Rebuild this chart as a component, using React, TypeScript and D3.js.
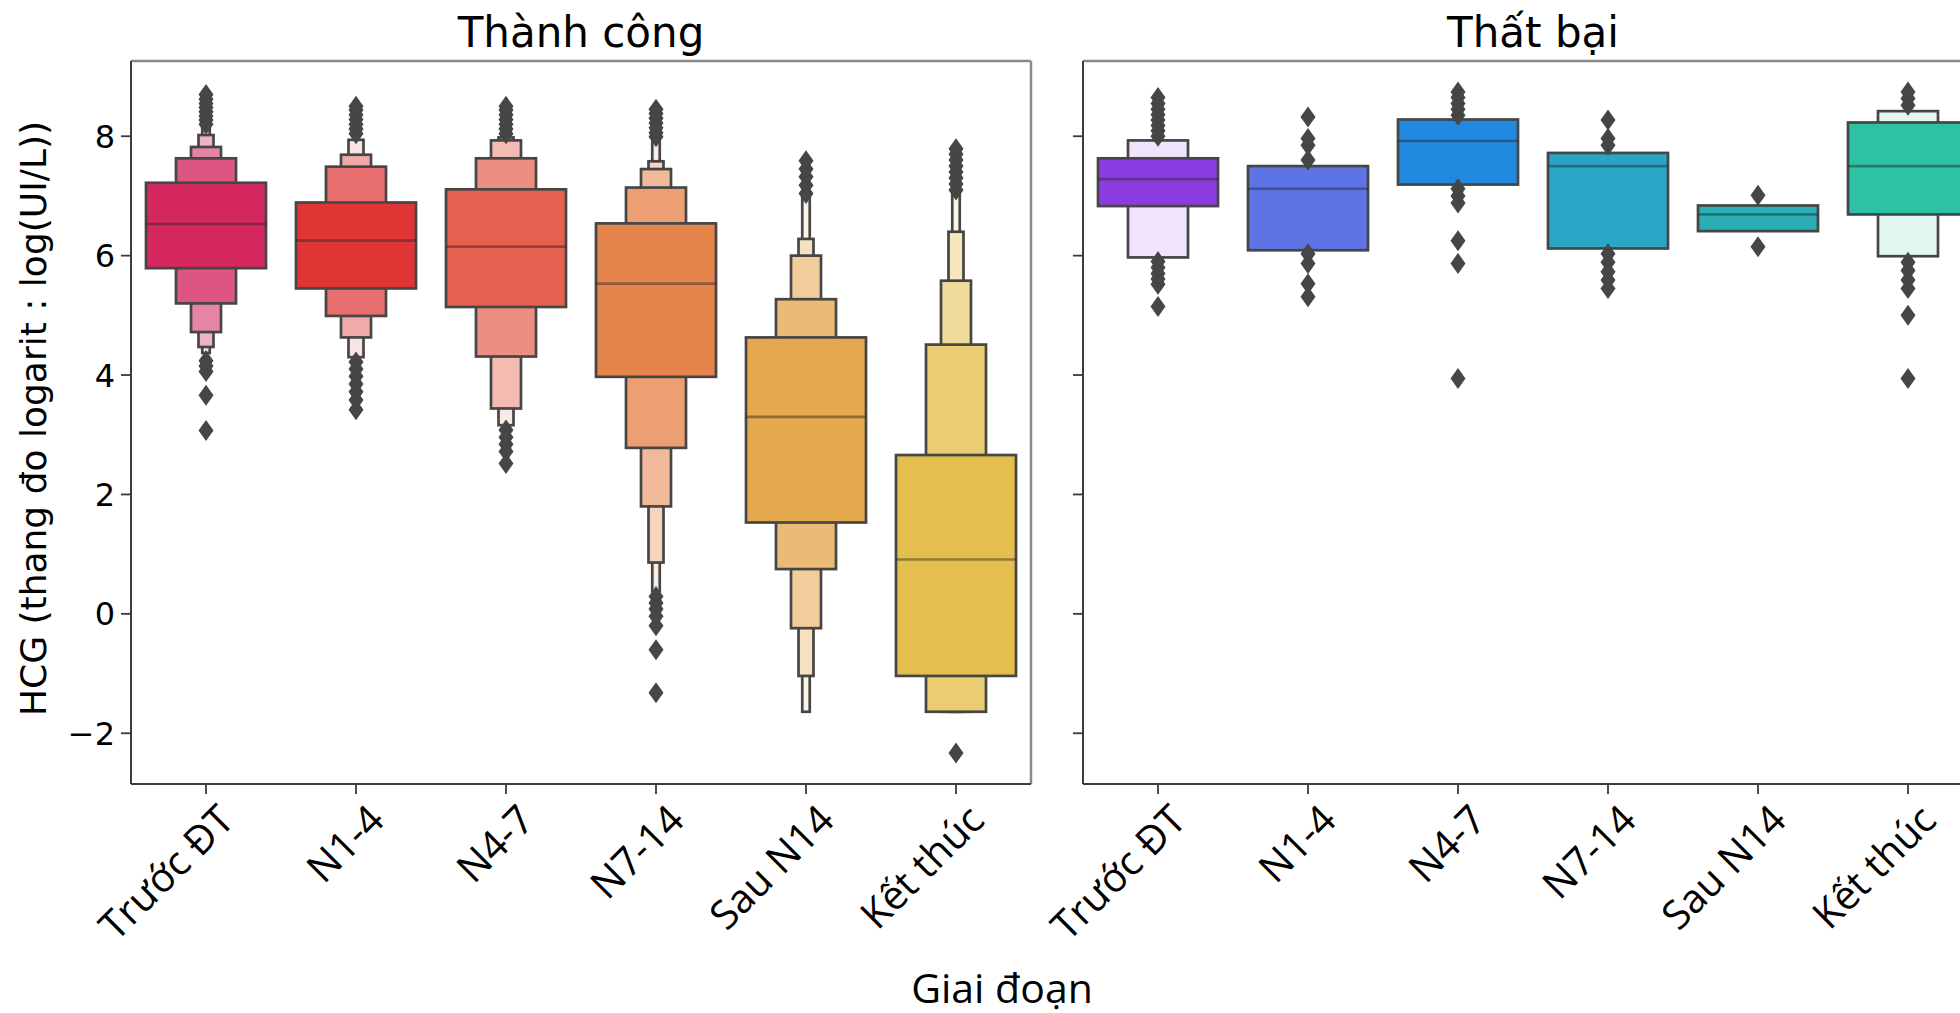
import React from "react";
import * as d3 from "d3";

// categories (stages) and panel titles
const categories = ["Trước ĐT", "N1-4", "N4-7", "N7-14", "Sau N14", "Kết thúc"];
const panelTitles = ["Thành công", "Thất bại"];
const yTicks = [-2, 0, 2, 4, 6, 8];

// base colours of each stage
const successColors = ["#d4285e", "#e03535", "#e5604e", "#e5854c", "#e4a84e", "#e4bf4d"];
const failureColors = ["#8b3ce1", "#5f74e4", "#2189e0", "#29a6c6", "#2aadb4", "#2ec2a5"];

// letter-value boxes, inner -> outer, [low, high]
const successLevels: [number, number][][] = [
  [[5.79, 7.22], [5.2, 7.63], [4.72, 7.82], [4.47, 8.02], [4.37, 8.14]],
  [[5.45, 6.89], [4.99, 7.49], [4.63, 7.69], [4.3, 7.94]],
  [[5.14, 7.11], [4.31, 7.63], [3.44, 7.93], [3.16, 7.98]],
  [[3.97, 6.54], [2.78, 7.14], [1.8, 7.45], [0.86, 7.58], [0.38, 7.93]],
  [[1.53, 4.63], [0.75, 5.27], [-0.24, 6.0], [-1.04, 6.28], [-1.64, 7.0]],
  [[-1.04, 2.66], [-1.64, 4.51], [-1.64, 5.58], [-1.64, 6.4], [-1.64, 7.05]],
];
const successMedians = [6.53, 6.25, 6.15, 5.53, 3.3, 0.91];
const successOutliers = [
  [8.2, 8.27, 8.34, 8.41, 8.48, 8.55, 8.62, 8.7, 4.24, 4.15, 4.06, 3.66, 3.07],
  [8.04, 8.12, 8.2, 8.28, 8.36, 8.44, 8.5, 4.22, 4.1, 3.98, 3.85, 3.72, 3.58, 3.42],
  [8.04, 8.12, 8.2, 8.28, 8.36, 8.44, 8.5, 3.08, 2.96, 2.84, 2.72, 2.52],
  [7.99, 8.06, 8.14, 8.22, 8.3, 8.38, 8.45, 0.29, 0.18, 0.08, -0.04, -0.2, -0.6, -1.32],
  [7.04, 7.18, 7.32, 7.45, 7.59],
  [7.1, 7.2, 7.3, 7.4, 7.5, 7.6, 7.7, 7.79, -2.33],
];

const failureLevels: [number, number][][] = [
  [[6.83, 7.63], [5.97, 7.93]],
  [[6.09, 7.5]],
  [[7.19, 8.28]],
  [[6.12, 7.72]],
  [[6.41, 6.84]],
  [[6.69, 8.23], [5.99, 8.42]],
];
const failureMedians = [7.28, 7.12, 7.92, 7.5, 6.69, 7.5];
const failureOutliers = [
  [8.0, 8.09, 8.18, 8.27, 8.36, 8.45, 8.55, 8.65, 5.9, 5.8, 5.7, 5.61, 5.52, 5.15],
  [7.6, 7.85, 7.96, 8.32, 6.03, 5.87, 5.53, 5.31],
  [8.35, 8.45, 8.55, 8.65, 8.74, 7.12, 7.0, 6.88, 6.25, 5.87, 3.94],
  [7.85, 7.96, 8.27, 6.03, 5.89, 5.73, 5.59, 5.45],
  [7.01, 6.15],
  [8.52, 8.63, 8.74, 5.89, 5.75, 5.59, 5.45, 5.0, 3.94],
];

const W = 1960;
const H = 1013;
const top = 61;
const bottom = 784;
const panelWidth = 900;
const panelLefts = [131, 1083];
const edge = "#464646";

const y = d3.scaleLinear().domain([-2.85, 9.26]).range([bottom, top]);

const diamond = (cx: number, cy: number) =>
  `M${cx},${cy - 10.5}L${cx + 7.5},${cy}L${cx},${cy + 10.5}L${cx - 7.5},${cy}Z`;

const Panel: React.FC<{
  idx: number;
  levels: [number, number][][];
  medians: number[];
  outliers: number[][];
  colors: string[];
}> = ({ idx, levels, medians, outliers, colors }) => {
  const x0 = panelLefts[idx];
  const x = d3.scaleBand<string>().domain(categories).range([x0, x0 + panelWidth]).padding(0);
  const bw = x.bandwidth();

  return (
    <g>
      <text
        x={x0 + panelWidth / 2}
        y={47}
        textAnchor="middle"
        fontFamily="DejaVu Sans"
        fontSize={42}
      >
        {panelTitles[idx]}
      </text>

      {categories.map((c, i) => {
        const cx = (x(c) ?? 0) + bw / 2;
        const lv = levels[i];
        const n = lv.length;
        const shade = d3.interpolateRgb(colors[i], "#ffffff");
        const w0 = bw * 0.8;
        return (
          <g key={c}>
            {lv
              .map((b, k) => ({ b, k }))
              .reverse()
              .map(({ b, k }) => {
                const w = w0 * Math.pow(0.5, k);
                const t = n > 1 ? (0.86 * k) / (n - 1) : 0;
                return (
                  <rect
                    key={k}
                    x={cx - w / 2}
                    y={y(b[1])}
                    width={w}
                    height={y(b[0]) - y(b[1])}
                    fill={shade(t)}
                    stroke={edge}
                    strokeWidth={2.7}
                  />
                );
              })}
            <line
              x1={cx - w0 / 2}
              x2={cx + w0 / 2}
              y1={y(medians[i])}
              y2={y(medians[i])}
              stroke="#262626"
              strokeOpacity={0.45}
              strokeWidth={2.7}
            />
            {outliers[i].map((v, k) => (
              <path key={k} d={diamond(cx, y(v))} fill={edge} />
            ))}
          </g>
        );
      })}

      {/* spines */}
      <line x1={x0} x2={x0 + panelWidth} y1={top} y2={top} stroke="#8a8a8a" strokeWidth={2.5} />
      <line x1={x0 + panelWidth} x2={x0 + panelWidth} y1={top} y2={bottom} stroke="#8a8a8a" strokeWidth={2.5} />
      <line x1={x0} x2={x0} y1={top} y2={bottom} stroke="#3c3c3c" strokeWidth={2} />
      <line x1={x0} x2={x0 + panelWidth} y1={bottom} y2={bottom} stroke="#3c3c3c" strokeWidth={2} />

      {/* y ticks */}
      {yTicks.map((t) => (
        <g key={t}>
          <line x1={x0 - 10} x2={x0} y1={y(t)} y2={y(t)} stroke="#3c3c3c" strokeWidth={1.8} />
          {idx === 0 && (
            <text
              x={x0 - 16}
              y={y(t)}
              dy="0.36em"
              textAnchor="end"
              fontFamily="DejaVu Sans"
              fontSize={32}
            >
              {t < 0 ? `\u2212${Math.abs(t)}` : `${t}`}
            </text>
          )}
        </g>
      ))}

      {/* x ticks */}
      {categories.map((c) => {
        const cx = (x(c) ?? 0) + bw / 2;
        return (
          <g key={c}>
            <line x1={cx} x2={cx} y1={bottom} y2={bottom + 10} stroke="#3c3c3c" strokeWidth={1.8} />
            <text
              transform={`translate(${cx + 10},${bottom + 18}) rotate(-45)`}
              textAnchor="end"
              dy="0.72em"
              fontFamily="Open Sans"
              fontSize={40}
            >
              {c}
            </text>
          </g>
        );
      })}
    </g>
  );
};

export default function App() {
  return (
    <svg
      width={W}
      height={H}
      style={{ position: "absolute", left: 0, top: 0, background: "#fff" }}
    >
      <rect width={W} height={H} fill="#fff" />
      <Panel idx={0} levels={successLevels} medians={successMedians} outliers={successOutliers} colors={successColors} />
      <Panel idx={1} levels={failureLevels} medians={failureMedians} outliers={failureOutliers} colors={failureColors} />
      <text
        transform={`translate(46,${(top + bottom) / 2 - 4}) rotate(-90)`}
        textAnchor="middle"
        fontFamily="DejaVu Sans"
        fontSize={36}
      >
        HCG (thang đo logarit : log(UI/L))
      </text>
      <text x={1002} y={1003} textAnchor="middle" fontFamily="Open Sans" fontSize={41}>
        Giai đoạn
      </text>
    </svg>
  );
}
